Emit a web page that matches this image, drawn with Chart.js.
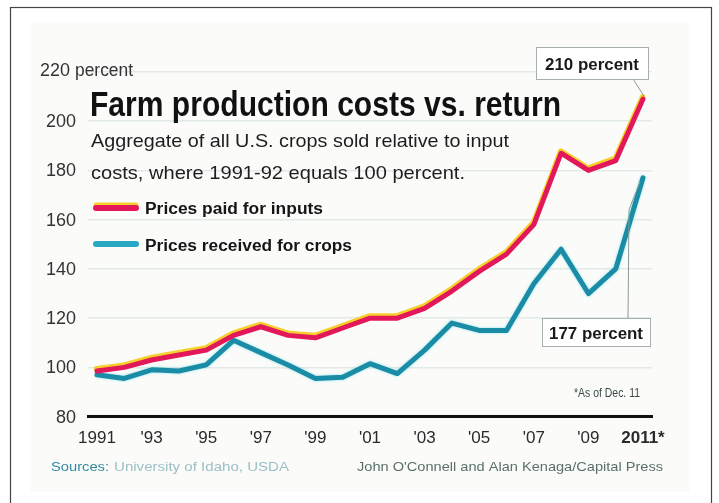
<!DOCTYPE html>
<html>
<head>
<meta charset="utf-8">
<script src="https://cdn.jsdelivr.net/npm/chart.js@4.4.1/dist/chart.umd.min.js"></script>
<style>
  html, body { margin: 0; padding: 0; background: #fff; }
  #wrap { width: 719px; height: 503px; position: relative; }
</style>
</head>
<body>
<div id="wrap"><canvas id="myChart" width="719" height="503"></canvas></div>
<script>
// data
const years = [1991, 1992, 1993, 1994, 1995, 1996, 1997, 1998, 1999, 2000, 2001, 2002, 2003, 2004, 2005, 2006, 2007, 2008, 2009, 2010, 2011];
const inputPrices = [98.5, 100, 103, 105, 107, 113, 116.5, 113, 112, 116, 120, 120, 124, 131, 139, 146, 158, 187, 180, 184, 209];
const cropPrices = [97, 95.5, 99, 98.5, 101, 111, 106, 101, 95.5, 96, 101.5, 97.5, 107, 118, 115, 115, 134, 148, 130, 140, 177];

const xTickYears = [1991, 1993, 1995, 1997, 1999, 2001, 2003, 2005, 2007, 2009, 2011];
const xTickLabels = ['1991', "'93", "'95", "'97", "'99", "'01", "'03", "'05", "'07", "'09", '2011*'];
const yTickValues = [80, 100, 120, 140, 160, 180, 200, 220];
const yTickLabels = ['80', '100', '120', '140', '160', '180', '200', '220'];

const seriesNames = ['Prices paid for inputs', 'Prices received for crops'];
const endLabels = ['210 percent', '177 percent'];

const RED = '#e2185a';
const YELLOW = '#f6cf2c';
const TEAL = '#1a8ca6';

const SANS = '"Liberation Sans", Arial, sans-serif';

// draw text squeezed to a given width (the print uses a condensed face)
function fitText(ctx, text, x, y, width, font, color, align) {
    ctx.save();
    ctx.font = font;
    ctx.fillStyle = color;
    ctx.textBaseline = 'alphabetic';
    ctx.textAlign = 'left';
    const w = ctx.measureText(text).width;
    const s = width / w;
    let left = x;
    if (align === 'right') left = x - width;
    if (align === 'center') left = x - width / 2;
    ctx.translate(left, y);
    ctx.scale(s, 1);
    ctx.fillText(text, 0, 0);
    ctx.restore();
}

const frame = {
    id: 'frame',
    beforeDraw(chart) {
        const ctx = chart.ctx;
        ctx.save();
        ctx.fillStyle = '#ffffff';
        ctx.fillRect(0, 0, chart.width, chart.height);
        ctx.fillStyle = '#fbfcfa';
        ctx.fillRect(30, 22, 660, 470);
        ctx.strokeStyle = '#444';
        ctx.lineWidth = 1.2;
        ctx.strokeRect(10.5, 7.5, 701, 520);
        ctx.restore();
    }
};

const glow = {
    id: 'glow',
    beforeDatasetDraw(chart, args) {
        const ctx = chart.ctx;
        ctx.save();
        if (args.index === 0) {
            ctx.shadowColor = YELLOW;
            ctx.shadowOffsetY = -2.5;
            ctx.shadowOffsetX = -0.5;
            ctx.shadowBlur = 0;
        } else {
            ctx.shadowColor = 'rgba(110,215,230,0.7)';
            ctx.shadowBlur = 3;
        }
    },
    afterDatasetDraw(chart) {
        chart.ctx.restore();
    }
};

const texts = {
    id: 'texts',
    afterDraw(chart) {
        const ctx = chart.ctx;
        const xs = chart.scales.x;
        const ys = chart.scales.y;

        // y tick labels
        yTickValues.forEach((v, i) => {
            const py = ys.getPixelForValue(v) + 6;
            if (v === 220) {
                fitText(ctx, yTickLabels[i], 70, py - 2, 30, '18px ' + SANS, '#333', 'right');
                fitText(ctx, 'percent', 75, py - 2, 58, '18px ' + SANS, '#333', 'left');
            } else {
                fitText(ctx, yTickLabels[i], 76, py, yTickLabels[i].length * 10, '18px ' + SANS, '#333', 'right');
            }
        });

        // headline
        fitText(ctx, 'Farm production costs vs. return', 90, 116, 471, 'bold 35px ' + SANS, '#111', 'left');
        fitText(ctx, 'Aggregate of all U.S. crops sold relative to input', 91, 147, 418, '19px ' + SANS, '#1d1d1d', 'left');
        fitText(ctx, 'costs, where 1991-92 equals 100 percent.', 91, 179, 374, '19px ' + SANS, '#1d1d1d', 'left');

        // legend
        ctx.save();
        ctx.lineCap = 'round';
        ctx.lineWidth = 5;
        ctx.strokeStyle = YELLOW;
        ctx.beginPath(); ctx.moveTo(96, 205); ctx.lineTo(136, 205); ctx.stroke();
        ctx.strokeStyle = RED;
        ctx.lineWidth = 6;
        ctx.beginPath(); ctx.moveTo(96, 208); ctx.lineTo(136, 208); ctx.stroke();
        ctx.strokeStyle = '#27a7c2';
        ctx.beginPath(); ctx.moveTo(96, 244); ctx.lineTo(136, 244); ctx.stroke();
        ctx.restore();
        fitText(ctx, seriesNames[0], 145, 214, 178, 'bold 16px ' + SANS, '#151515', 'left');
        fitText(ctx, seriesNames[1], 145, 251, 207, 'bold 16px ' + SANS, '#151515', 'left');

        // end-point call-outs
        const last = years.length - 1;
        const pRed = { x: xs.getPixelForValue(years[last]), y: ys.getPixelForValue(inputPrices[last]) };
        const pTeal = { x: xs.getPixelForValue(years[last]), y: ys.getPixelForValue(cropPrices[last]) };

        ctx.save();
        ctx.strokeStyle = '#8a9a96';
        ctx.lineWidth = 1;
        ctx.beginPath();
        ctx.moveTo(633, 79);
        ctx.lineTo(pRed.x + 1, pRed.y - 3);
        ctx.stroke();
        ctx.beginPath();
        ctx.moveTo(628, 318);
        ctx.lineTo(629, pTeal.y + 32);
        ctx.lineTo(pTeal.x - 3, pTeal.y + 4);
        ctx.stroke();

        [[536, 47, 112, 32], [542, 318, 108, 28]].forEach(b => {
            ctx.fillStyle = '#ffffff';
            ctx.fillRect(b[0], b[1], b[2], b[3]);
            ctx.strokeStyle = '#a5b0ad';
            ctx.strokeRect(b[0] + 0.5, b[1] + 0.5, b[2], b[3]);
        });
        ctx.restore();
        fitText(ctx, endLabels[0], 592, 70, 94, 'bold 17px ' + SANS, '#1a1a1a', 'center');
        fitText(ctx, endLabels[1], 596, 339, 94, 'bold 17px ' + SANS, '#1a1a1a', 'center');

        // notes and credits
        fitText(ctx, '*As of Dec. 11', 640, 397, 66, '12px ' + SANS, '#3c4a46', 'right');
        fitText(ctx, 'Sources:', 51, 471, 58, '13px ' + SANS, '#2f8aa0', 'left');
        fitText(ctx, 'University of Idaho, USDA', 114, 471, 175, '13px ' + SANS, '#9cc0c6', 'left');
        fitText(ctx, "John O'Connell and Alan Kenaga/Capital Press", 357, 471, 306, '13px ' + SANS, '#5a7068', 'left');
    }
};

const ctx = document.getElementById('myChart').getContext('2d');

new Chart(ctx, {
    type: 'line',
    data: {
        datasets: [{
            label: seriesNames[0],
            data: years.map((y, i) => ({ x: y, y: inputPrices[i] })),
            borderColor: RED,
            borderWidth: 5,
            pointRadius: 0,
            tension: 0,
            borderJoinStyle: 'round',
            borderCapStyle: 'round',
            order: 1
        }, {
            label: seriesNames[1],
            data: years.map((y, i) => ({ x: y, y: cropPrices[i] })),
            borderColor: TEAL,
            borderWidth: 5,
            pointRadius: 0,
            tension: 0,
            borderJoinStyle: 'round',
            borderCapStyle: 'round',
            order: 2
        }]
    },
    options: {
        responsive: false,
        animation: false,
        events: [],
        layout: { padding: { left: 88, right: 67, top: 72, bottom: 42 } },
        plugins: {
            legend: { display: false },
            tooltip: { enabled: false }
        },
        scales: {
            x: {
                type: 'linear',
                min: 1990.67,
                max: 2011.33,
                afterBuildTicks: (scale) => {
                    scale.ticks = xTickYears.map(v => ({ value: v }));
                },
                grid: { display: false, drawTicks: false },
                border: { display: true, color: '#111', width: 3 },
                ticks: {
                    autoSkip: false,
                    maxRotation: 0,
                    padding: 12,
                    color: '#2a2a2a',
                    font: (c) => ({ family: SANS, size: 17, weight: c.index === xTickLabels.length - 1 ? 'bold' : 'normal' }),
                    callback: (v, i) => xTickLabels[i]
                }
            },
            y: {
                min: 80,
                max: 220,
                afterBuildTicks: (scale) => {
                    scale.ticks = yTickValues.map(v => ({ value: v }));
                },
                grid: { color: '#e2eae7', lineWidth: 1.5, drawTicks: false },
                border: { display: false },
                ticks: { display: false }
            }
        }
    },
    plugins: [frame, glow, texts]
});
</script>
</body>
</html>
